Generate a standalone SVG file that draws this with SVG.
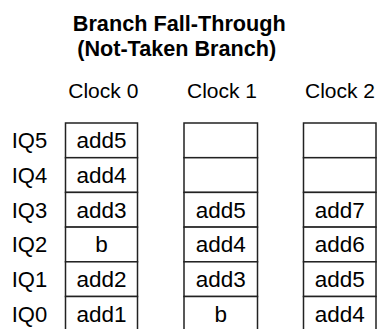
<svg xmlns="http://www.w3.org/2000/svg" width="377" height="329" viewBox="0 0 377 329">
<style>
.t{font-family:"Liberation Sans",Arial,sans-serif;fill:#000;}
.title{font-size:22.5px;font-weight:bold;text-anchor:middle;}
.clk{font-size:21px;text-anchor:middle;}
.lbl{font-size:22px;}
.cell{font-size:22.5px;text-anchor:middle;}
.box{fill:#fff;stroke:#222;stroke-width:1.5;}
</style>
<rect width="377" height="329" fill="#fff"/>
<g id="title">
<text class="t title" x="179.3" y="31" textLength="213" lengthAdjust="spacingAndGlyphs">Branch Fall-Through</text>
<text class="t title" x="176.7" y="55.5" textLength="199" lengthAdjust="spacingAndGlyphs">(Not-Taken Branch)</text>
</g>
<g id="clocks">
<text class="t clk" x="103.3" y="98.3">Clock 0</text>
<text class="t clk" x="222" y="98.3">Clock 1</text>
<text class="t clk" x="340" y="98.3">Clock 2</text>
</g>
<g id="labels">
<text class="t lbl" x="11.7" y="148.3">IQ5</text>
<text class="t lbl" x="11.7" y="183">IQ4</text>
<text class="t lbl" x="11.7" y="217.7">IQ3</text>
<text class="t lbl" x="11.7" y="252.4">IQ2</text>
<text class="t lbl" x="11.7" y="287.1">IQ1</text>
<text class="t lbl" x="11.7" y="321.8">IQ0</text>
</g>
<g id="clock0">
<rect class="box" x="65.5" y="123" width="72" height="34.7"/>
<rect class="box" x="65.5" y="157.7" width="72" height="34.7"/>
<rect class="box" x="65.5" y="192.4" width="72" height="34.7"/>
<rect class="box" x="65.5" y="227.1" width="72" height="34.7"/>
<rect class="box" x="65.5" y="261.8" width="72" height="34.7"/>
<rect class="box" x="65.5" y="296.5" width="72" height="34.7"/>
<text class="t cell" x="101.5" y="148.3">add5</text>
<text class="t cell" x="101.5" y="183">add4</text>
<text class="t cell" x="101.5" y="217.7">add3</text>
<text class="t cell" x="101.5" y="252.4">b</text>
<text class="t cell" x="101.5" y="287.1">add2</text>
<text class="t cell" x="101.5" y="321.8">add1</text>
</g>
<g id="clock1">
<rect class="box" x="184" y="123" width="73.5" height="34.7"/>
<rect class="box" x="184" y="157.7" width="73.5" height="34.7"/>
<rect class="box" x="184" y="192.4" width="73.5" height="34.7"/>
<rect class="box" x="184" y="227.1" width="73.5" height="34.7"/>
<rect class="box" x="184" y="261.8" width="73.5" height="34.7"/>
<rect class="box" x="184" y="296.5" width="73.5" height="34.7"/>
<text class="t cell" x="220.75" y="217.7">add5</text>
<text class="t cell" x="220.75" y="252.4">add4</text>
<text class="t cell" x="220.75" y="287.1">add3</text>
<text class="t cell" x="220.75" y="321.8">b</text>
</g>
<g id="clock2">
<rect class="box" x="303.5" y="123" width="72.5" height="34.7"/>
<rect class="box" x="303.5" y="157.7" width="72.5" height="34.7"/>
<rect class="box" x="303.5" y="192.4" width="72.5" height="34.7"/>
<rect class="box" x="303.5" y="227.1" width="72.5" height="34.7"/>
<rect class="box" x="303.5" y="261.8" width="72.5" height="34.7"/>
<rect class="box" x="303.5" y="296.5" width="72.5" height="34.7"/>
<text class="t cell" x="339.75" y="217.7">add7</text>
<text class="t cell" x="339.75" y="252.4">add6</text>
<text class="t cell" x="339.75" y="287.1">add5</text>
<text class="t cell" x="339.75" y="321.8">add4</text>
</g>
<g id="connectors"></g>
</svg>
